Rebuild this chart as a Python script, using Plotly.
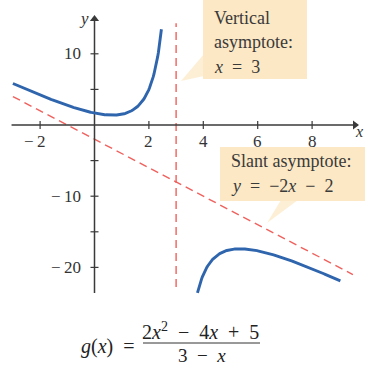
import numpy as np
import plotly.graph_objects as go

# g(x) = (2x^2 - 4x + 5) / (3 - x)
num_coef = [2, -4, 5]          # numerator, highest power first
den_coef = [-1, 3]             # 3 - x
slant_slope, slant_icpt = -2, -2
vert_x = 3

left_branch = np.linspace(-3.0, 2.46, 200)
right_branch = np.linspace(3.785, 9.04, 200)
slant_x = [-3.0, 9.5]
vert_y = [-22.75, 14.3]

x_ticks = [-2, 2, 4, 6, 8]
x_tick_labels = ["\u2212\u20092", "2", "4", "6", "8"]
y_ticks = [-20, -15, -10, -5, 5, 10]
y_tick_labels = {10: "10", -10: "\u2212\u200910", -20: "\u2212\u200920"}


def g(x):
    return np.polyval(num_coef, x) / np.polyval(den_coef, x)


W, H = 365, 366
X0, SX = 94.5, 27.2     # pixel of x=0, pixels per x unit
Y0, SY = 125.0, 7.12    # pixel of y=0, pixels per y unit
x_range = [(0 - X0) / SX, (W - X0) / SX]
y_range = [(Y0 - H) / SY, (Y0 - 0) / SY]


def px(p):
    return p / W


def py(p):
    return 1 - p / H


SERIF = "Liberation Serif, Times New Roman, serif"
AXIS_C = "#3a3a3a"
RED = "#f0605c"
BLUE = "#2f65ad"
BOX = "#fce8c4"
SP = "\u2002"  # en space around operators

fig = go.Figure()

# asymptotes
fig.add_trace(go.Scatter(
    x=slant_x, y=[slant_slope * v + slant_icpt for v in slant_x],
    mode="lines", line=dict(color=RED, width=1.4, dash="8px,5px"),
    hoverinfo="skip"))
fig.add_trace(go.Scatter(
    x=[vert_x, vert_x], y=vert_y,
    mode="lines", line=dict(color=RED, width=1.4, dash="8px,5px"),
    hoverinfo="skip"))

# axes with arrow tips
x_axis_end = (355 - X0) / SX
y_axis_top = (Y0 - 19) / SY
fig.add_trace(go.Scatter(x=[-3.05, x_axis_end], y=[0, 0], mode="lines",
                         line=dict(color=AXIS_C, width=1.5), hoverinfo="skip"))
fig.add_trace(go.Scatter(x=[0, 0], y=[-23.6, y_axis_top], mode="lines",
                         line=dict(color=AXIS_C, width=1.5), hoverinfo="skip"))
fig.add_trace(go.Scatter(x=[x_axis_end], y=[0], mode="markers",
                         marker=dict(symbol="triangle-right", size=8,
                                     color=AXIS_C), hoverinfo="skip"))
fig.add_trace(go.Scatter(x=[0], y=[y_axis_top], mode="markers",
                         marker=dict(symbol="triangle-up", size=8,
                                     color=AXIS_C), hoverinfo="skip"))

# tick marks
tx, ty = [], []
for t in x_ticks:
    tx += [t, t, None]
    ty += [-4 / SY, 4 / SY, None]
for t in y_ticks:
    tx += [-4 / SX, 4 / SX, None]
    ty += [t, t, None]
fig.add_trace(go.Scatter(x=tx, y=ty, mode="lines",
                         line=dict(color=AXIS_C, width=1.2), hoverinfo="skip"))

# curve branches
for xs in (left_branch, right_branch):
    fig.add_trace(go.Scatter(x=xs, y=g(xs), mode="lines",
                             line=dict(color=BLUE, width=2.9), hoverinfo="skip"))

annotations = []


def label(xp, yp, text, size=17, xanchor="center", color="#333", xref="paper",
          yref="paper", xshift=0):
    annotations.append(dict(x=xp, y=yp, xref=xref, yref=yref, text=text,
                            showarrow=False, xanchor=xanchor, yanchor="middle",
                            xshift=xshift,
                            font=dict(family=SERIF, size=size, color=color)))


label(px(359), py(131), "<i>x</i>", size=16)
label(px(84), py(18), "<i>y</i>", size=17)

# tick labels
for t, lab in zip(x_ticks, x_tick_labels):
    label(t, -16 / SY, lab, xref="x", yref="y", xshift=-5 if t < 0 else 0)
for t, lab in y_tick_labels.items():
    label(-12 / SX, t, lab, xref="x", yref="y", xanchor="right")

shapes = []
# callout boxes with pointers
shapes.append(dict(type="rect", xref="paper", yref="paper",
                   x0=px(203), x1=px(307), y0=py(79), y1=py(0),
                   fillcolor=BOX, line=dict(width=0), layer="below"))
shapes.append(dict(type="path", xref="paper", yref="paper",
                   path=f"M {px(204)} {py(54)} L {px(204)} {py(76)} L {px(181)} {py(81)} Z",
                   fillcolor=BOX, line=dict(width=0), opacity=0.7, layer="below"))
shapes.append(dict(type="rect", xref="paper", yref="paper",
                   x0=px(220), x1=px(365), y0=py(201), y1=py(147),
                   fillcolor=BOX, line=dict(width=0), layer="below"))
shapes.append(dict(type="path", xref="paper", yref="paper",
                   path=f"M {px(281)} {py(200)} L {px(298)} {py(200)} L {px(267)} {py(223)} Z",
                   fillcolor=BOX, line=dict(width=0), opacity=0.7, layer="below"))

for text, ypix in (("Vertical", 18), ("asymptote:", 42),
                   (f"<i>x</i>{SP}={SP}3", 67)):
    label(px(212), py(ypix), text, size=18, xanchor="left", color="#3a3a3a")
for text, ypix in (("Slant asymptote:", 161),
                   (f"<i>y</i>{SP}={SP}\u22122<i>x</i>{SP}\u2212{SP}2", 186)):
    label(px(229), py(ypix), text, size=18, xanchor="left", color="#3a3a3a")

# formula below the plot
label(px(137), py(346), f"<i>g</i>(<i>x</i>){SP}=", size=20, xanchor="right",
      color="#222")
label(px(201), py(331),
      f"2<i>x</i><sup>2</sup>{SP}\u2212{SP}4<i>x</i>{SP}+{SP}5", size=20,
      color="#222")
label(px(202), py(355), f"3{SP}\u2212{SP}<i>x</i>", size=19, color="#222")
shapes.append(dict(type="line", xref="paper", yref="paper",
                   x0=px(143), x1=px(260), y0=py(343), y1=py(343),
                   line=dict(color="#333", width=1)))

fig.update_layout(
    width=W, height=H,
    margin=dict(l=0, r=0, t=0, b=0),
    paper_bgcolor="white", plot_bgcolor="white",
    showlegend=False,
    xaxis=dict(range=x_range, visible=False, fixedrange=True),
    yaxis=dict(range=y_range, visible=False, fixedrange=True),
    annotations=annotations,
    shapes=shapes,
)

fig.write_html("out.html")
